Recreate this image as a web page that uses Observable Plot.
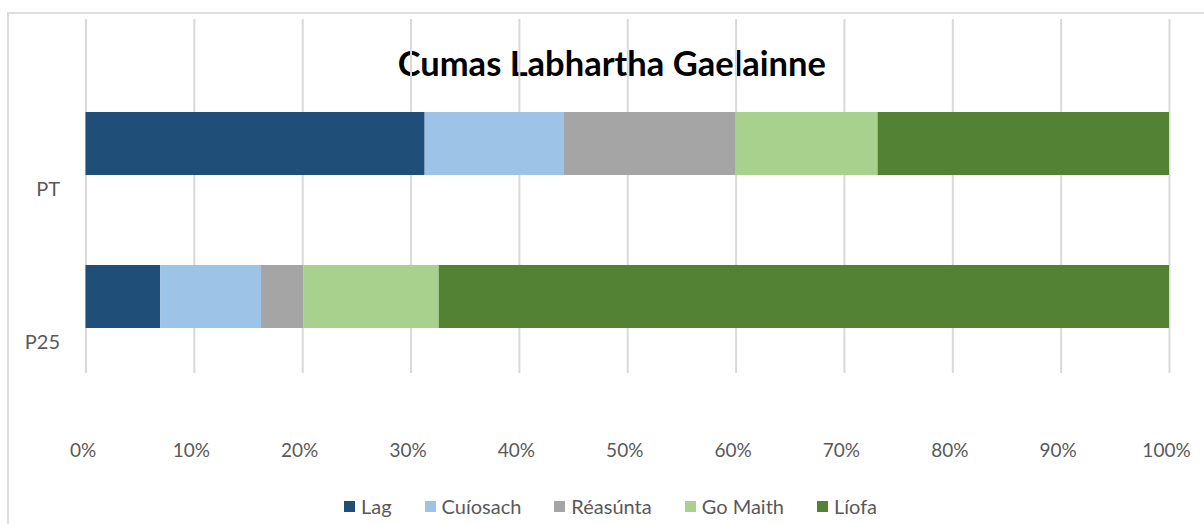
<!DOCTYPE html>
<html>
<head>
<meta charset="utf-8">
<script src="https://cdn.jsdelivr.net/npm/d3@7"></script>
<script src="https://cdn.jsdelivr.net/npm/@observablehq/plot@0.6"></script>
<style>
  html, body { margin: 0; padding: 0; background: #fff; width: 1204px; height: 524px; overflow: hidden; }
  #frame { position: absolute; left: 7px; top: 12px; width: 1300px; height: 600px; border-left: 2px solid #dcdcdc; border-top: 2px solid #dcdcdc; box-sizing: border-box; }
  #chart { position: absolute; left: 0; top: 0; }
  #legend { position: absolute; left: 0; top: 494px; width: 1204px; display: flex; justify-content: center; font-family: Lato, "Open Sans", sans-serif; font-size: 20px; line-height: 24px; color: #595959; padding-left: 44px; box-sizing: border-box; }
  #legend .item { display: flex; align-items: center; margin: 0 27px 0 0; }
  #legend .item:not(:first-child) { margin-left: 6px; }
  #legend .sw { width: 11px; height: 11px; margin-right: 6px; }
</style>
</head>
<body>
<div id="frame"></div>
<div id="chart"></div>
<div id="legend"></div>
<script>
const categories = ["PT", "P25"];
const series = ["Lag", "Cuíosach", "Réasúnta", "Go Maith", "Líofa"];
const ptValues = [31.3, 12.8, 15.9, 13.1, 26.9];
const p25Values = [6.9, 9.3, 3.9, 12.5, 67.4];
const colors = ["#1f4e79", "#9dc3e6", "#a5a5a5", "#a9d18e", "#548235"];
const xTicks = [0, 10, 20, 30, 40, 50, 60, 70, 80, 90, 100];
const title = "Cumas Labhartha Gaelainne";

const valuesByCategory = {PT: ptValues, P25: p25Values};
const rows = [];
for (const c of categories) {
  series.forEach((s, i) => rows.push({category: c, series: s, value: valuesByCategory[c][i]}));
}

const font = "Lato, 'Open Sans', sans-serif";

const chart = Plot.plot({
  width: 1204,
  height: 470,
  marginLeft: 85.5,
  marginRight: 35,
  marginTop: 19,
  marginBottom: 97,
  style: {fontFamily: font, background: "transparent"},
  x: {domain: [0, 100], ticks: xTicks, tickFormat: d => d + "%"},
  y: {domain: categories, padding: 0.591, insetTop: 1, insetBottom: -46},
  color: {domain: series, range: colors},
  marks: [
    Plot.text([title], {frameAnchor: "top", dy: 31.5, dx: -16, fontSize: 34.5, fontWeight: "bold", fill: "#000", fontFamily: font}),
    Plot.ruleX(xTicks, {stroke: "#d9d9d9", strokeWidth: 2}),
    Plot.barX(rows, Plot.stackX({x: "value", y: "category", fill: "series", order: null})),
    Plot.axisX({ticks: xTicks, tickFormat: d => d + "%", tickSize: 0, tickPadding: 70, fontSize: 19, fill: "#595959", dx: -3, label: null}),
    Plot.axisY({tickSize: 0, tickPadding: 26, fontSize: 20, fill: "#595959", dy: 46, label: null})
  ]
});
document.getElementById("chart").appendChild(chart);

const legend = d3.select("#legend");
series.forEach((s, i) => {
  const item = legend.append("div").attr("class", "item");
  item.append("div").attr("class", "sw").style("background", colors[i]);
  item.append("span").text(s);
});
</script>
</body>
</html>
